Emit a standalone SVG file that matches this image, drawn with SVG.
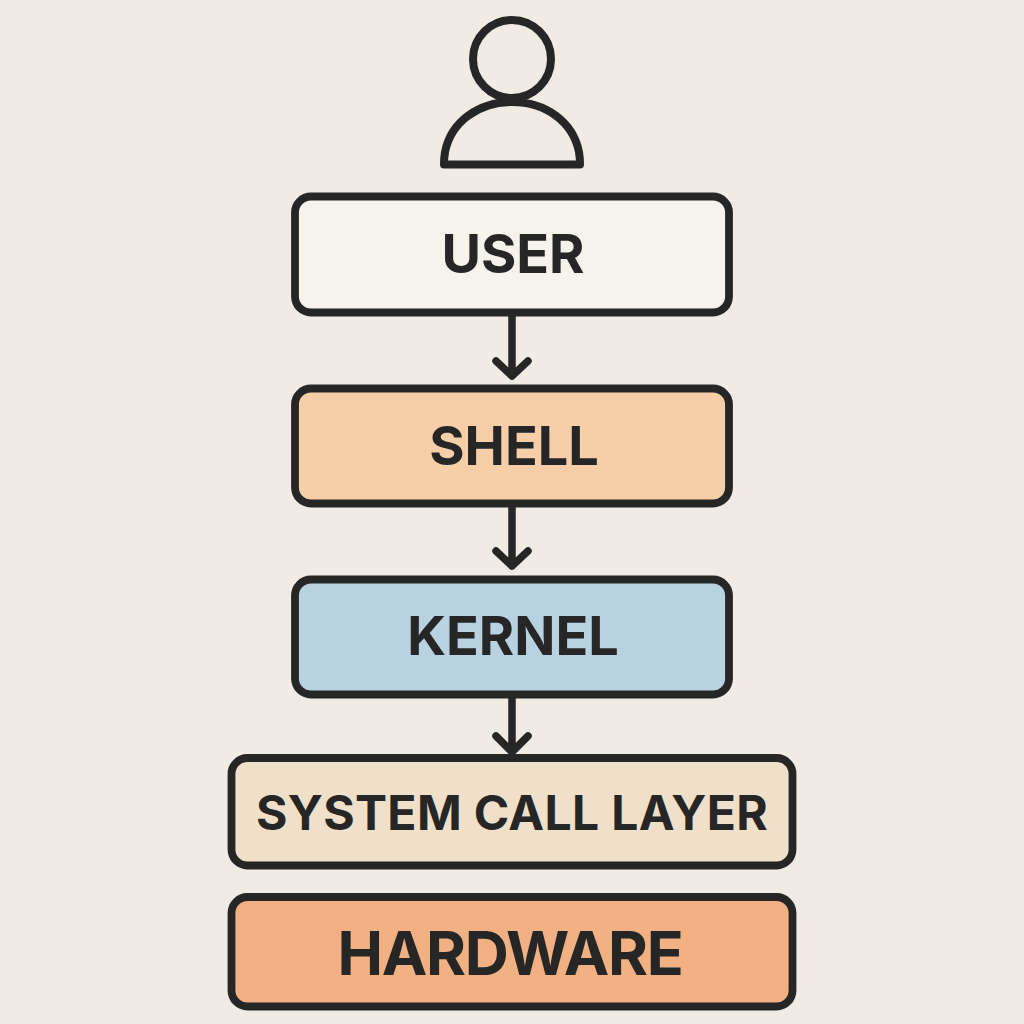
<svg xmlns="http://www.w3.org/2000/svg" width="1024" height="1024" viewBox="0 0 1024 1024">
<style>
.box{stroke:#262626;stroke-width:7.800}
.lbl{font-family:"Inter","Noto Sans","Liberation Sans",sans-serif;font-weight:700;fill:#262626;text-anchor:middle}
.con{stroke:#262626;stroke-width:7.500;fill:none;stroke-linecap:round;stroke-linejoin:round}
</style>
<rect width="1024" height="1024" fill="#f0ebe5"/>
<g id="person" fill="none" stroke="#262626" stroke-width="8">
<circle cx="512" cy="59" r="39"/>
<path d="M444 164.500 C444 160 444 158 445 152 C451 122 478 102 512 102 C546 102 573 122 579 152 C580 158 580 160 580 164.500 Z" stroke-linejoin="round"/>
</g>
<g id="connectors" class="con">
<path d="M512 315 V375 M496 361 L512 376 L528 361"/>
<path d="M512 505 V566 M496 551 L512 566 L528 551"/>
<path d="M512 696 V752 M496 736 L512 752 L528 736"/>
</g>
<g id="user"><rect class="box" x="295" y="196.500" width="434" height="116" rx="16" fill="#f6f2ec"/><text class="lbl" x="513" y="273" font-size="54">USER</text></g>
<g id="shell"><rect class="box" x="295" y="388.500" width="434" height="115" rx="16" fill="#f6cfa9"/><text class="lbl" x="514" y="465" font-size="54">SHELL</text></g>
<g id="kernel"><rect class="box" x="295" y="579.500" width="434" height="115" rx="16" fill="#b9d2e1"/><text class="lbl" x="513" y="655" font-size="54">KERNEL</text></g>
<g id="syscall"><rect class="box" x="231.500" y="758" width="561" height="107.500" rx="16" fill="#f0dfc9"/><text class="lbl" x="512" y="830" font-size="48" letter-spacing="0.370">SYSTEM CALL LAYER</text></g>
<g id="hardware"><rect class="box" x="231.500" y="897" width="561" height="109.500" rx="16" fill="#f1b182"/><text class="lbl" x="510" y="975" font-size="61" letter-spacing="-1.300">HARDWARE</text></g>
</svg>
